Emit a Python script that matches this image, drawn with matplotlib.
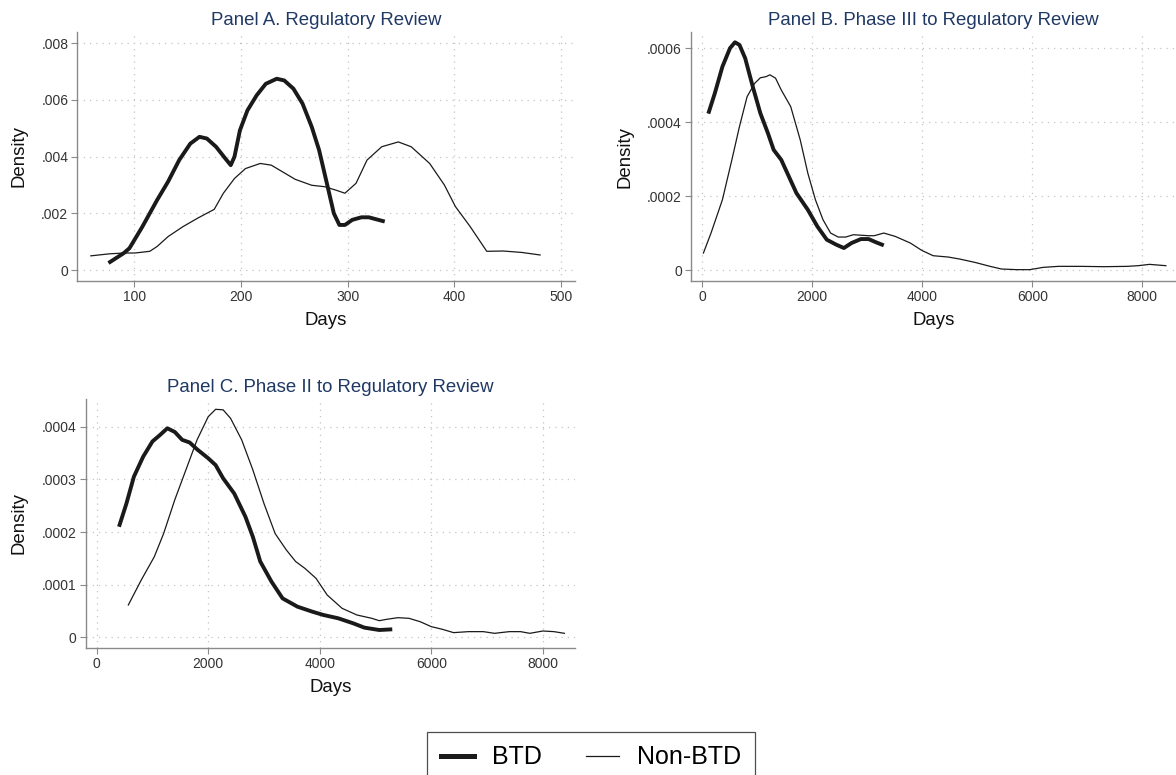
import matplotlib
matplotlib.use("Agg")
import matplotlib.pyplot as plt
from matplotlib.lines import Line2D

plt.rcParams['font.family'] = ['Liberation Sans', 'DejaVu Sans']

# ---------------- data ----------------
# Panel A. Regulatory Review
a_btd_x = [75.8, 90.3, 95.5, 107.6, 121.4, 131.7, 142.1, 152.5, 161.1, 168, 176.6, 185.2, 190.4, 193.9, 199,
           206, 214.6, 223.2, 233.5, 240.5, 249.1, 257.7, 266.3, 273.2, 280.1, 287, 292.2, 297.4, 304.3,
           312.9, 319.8, 326.7, 334.7]
a_btd_y = [0.000246, 0.0006, 0.00077, 0.00153, 0.00247, 0.00312, 0.00388, 0.00446, 0.0047, 0.00464, 0.00435,
           0.00394, 0.0037, 0.0040, 0.00493, 0.00563, 0.00616, 0.00657, 0.00675, 0.00669, 0.0064, 0.00587,
           0.00505, 0.00423, 0.00312, 0.0020, 0.00159, 0.00159, 0.00177, 0.00186, 0.00186, 0.00179, 0.00171]
a_non_x = [59.3, 76.5, 90.3, 100.7, 114.5, 121.4, 131.7, 145.6, 159.4, 174.9, 183.5, 193.9, 204.2, 218, 228.4,
           238.7, 250.8, 266.3, 278.4, 288.8, 297.4, 307.8, 318.1, 331.9, 347.4, 359.5, 376.8, 390.6, 400.9,
           414.8, 430.3, 445.8, 463.1, 480.3]
a_non_y = [0.0005, 0.00057, 0.0006, 0.0006, 0.00066, 0.00083, 0.00118, 0.00153, 0.00183, 0.00214, 0.00271,
           0.00323, 0.00358, 0.00376, 0.0037, 0.00347, 0.0032, 0.00299, 0.00294, 0.00282, 0.00271, 0.00306,
           0.00388, 0.00435, 0.00452, 0.00435, 0.00376, 0.0030, 0.00224, 0.00153, 0.00066, 0.00067, 0.00062,
           0.00053]

# Panel B. Phase III to Regulatory Review
b_btd_x = [110, 228, 366, 504, 594, 676, 780, 918, 1056, 1194, 1298, 1436, 1574, 1712, 1919, 2092, 2264, 2437,
           2575, 2713, 2885, 3023, 3162, 3300]
b_btd_y = [0.000423, 0.000478, 0.00055, 0.0006, 0.000616, 0.000609, 0.000573, 0.000496, 0.000424, 0.00037,
           0.000325, 0.000298, 0.000253, 0.000208, 0.000163, 0.000118, 0.000082, 0.0000685, 0.0000595,
           0.000073, 0.0000838, 0.0000838, 0.0000748, 0.0000667]
b_non_x = [21, 159, 366, 538, 676, 815, 953, 1056, 1160, 1229, 1332, 1436, 1608, 1781, 1919, 2057, 2195, 2333,
           2471, 2609, 2747, 3023, 3127, 3300, 3507, 3783, 3990, 4197, 4473, 4680, 4956, 5233, 5440, 5716,
           5957, 6199, 6475, 6889, 7303, 7717, 7924, 8132, 8429]
b_non_y = [0.000046, 0.0001, 0.00019, 0.000298, 0.000388, 0.000469, 0.000505, 0.00052, 0.000523, 0.000528,
           0.000519, 0.000487, 0.000442, 0.000352, 0.000262, 0.00019, 0.000136, 0.0001, 0.0000892, 0.0000892,
           0.0000955, 0.0000928, 0.0000928, 0.0001, 0.000091, 0.000073, 0.0000532, 0.0000387, 0.0000351,
           0.0000297, 0.0000207, 0.0000099, 0.0000027, 0.000001, 0.000001, 0.0000072, 0.0000099, 0.0000099,
           0.000009, 0.0000099, 0.0000117, 0.0000153, 0.0000117]

# Panel C. Phase II to Regulatory Review
c_btd_x = [400, 533, 667, 833, 1000, 1133, 1267, 1400, 1533, 1667, 1800, 2000, 2133, 2267, 2467, 2667, 2800,
           2933, 3133, 3333, 3600, 3867, 4067, 4333, 4600, 4800, 5067, 5300]
c_btd_y = [0.00021, 0.000254, 0.000305, 0.000343, 0.000372, 0.000384, 0.000397, 0.00039, 0.000375, 0.00037,
           0.000357, 0.00034, 0.000327, 0.000302, 0.000273, 0.000229, 0.000191, 0.000144, 0.000106, 0.000074,
           0.0000582, 0.0000487, 0.0000424, 0.0000361, 0.0000266, 0.0000184, 0.0000139, 0.0000152]
c_non_x = [567, 800, 1033, 1200, 1400, 1600, 1800, 2000, 2133, 2267, 2400, 2600, 2800, 3000, 3200, 3400, 3567,
           3733, 3933, 4133, 4400, 4667, 4933, 5067, 5200, 5400, 5600, 5800, 6000, 6200, 6400, 6667, 6933,
           7133, 7400, 7600, 7767, 8000, 8200, 8387]
c_non_y = [0.0000614, 0.000109, 0.000153, 0.000197, 0.000261, 0.000318, 0.000375, 0.000419, 0.000433,
           0.000432, 0.000416, 0.000375, 0.000318, 0.000254, 0.000197, 0.000166, 0.000144, 0.000131,
           0.000112, 0.0000804, 0.0000551, 0.0000424, 0.0000361, 0.0000316, 0.0000342, 0.0000373,
           0.0000361, 0.0000297, 0.0000203, 0.0000152, 0.0000089, 0.0000108, 0.0000108, 0.0000076,
           0.0000108, 0.0000108, 0.0000076, 0.000012, 0.0000108, 0.0000076]

titles = ["Panel A. Regulatory Review", "Panel B. Phase III to Regulatory Review",
          "Panel C. Phase II to Regulatory Review"]
a_xticks = [100, 200, 300, 400, 500]
a_yticks = [0, 0.002, 0.004, 0.006, 0.008]
a_yticklabels = ["0", ".002", ".004", ".006", ".008"]
b_xticks = [0, 2000, 4000, 6000, 8000]
b_yticks = [0, 0.0002, 0.0004, 0.0006]
b_yticklabels = ["0", ".0002", ".0004", ".0006"]
c_xticks = [0, 2000, 4000, 6000, 8000]
c_yticks = [0, 0.0001, 0.0002, 0.0003, 0.0004]
c_yticklabels = ["0", ".0001", ".0002", ".0003", ".0004"]
series_labels = ["BTD", "Non-BTD"]

# ---------------- figure ----------------
W, H = 1176, 775
fig = plt.figure(figsize=(W / 100, H / 100), dpi=100)

def px_axes(l, r, t, b):
    return fig.add_axes([l / W, 1 - b / H, (r - l) / W, (b - t) / H])

LINE = '#1a1a1a'
SPINE = '#8a8a8a'
TITLE = '#1f3864'

def style(ax, title, xt, yt, ytl, xlim, ylim):
    ax.set_xlim(*xlim)
    ax.set_ylim(*ylim)
    ax.set_xticks(xt)
    ax.set_xticklabels([str(v) for v in xt])
    ax.set_yticks(yt)
    ax.set_yticklabels(ytl)
    for s in ['top', 'right']:
        ax.spines[s].set_visible(False)
    for s in ['left', 'bottom']:
        ax.spines[s].set_color(SPINE)
        ax.spines[s].set_linewidth(1.0)
    ax.tick_params(axis='both', colors=SPINE, labelcolor='#333333', labelsize=10,
                   length=4, width=0.8, pad=2.5)
    ax.grid(True, color='#c4c4c4', linestyle=(0, (1, 4)), linewidth=0.9)
    ax.set_axisbelow(True)
    ax.set_title(title, color=TITLE, fontsize=13.4, pad=5)
    ax.set_xlabel("Days", fontsize=13.4, color='#111111', labelpad=6)
    ax.set_ylabel("Density", fontsize=13.4, color='#111111', labelpad=10)

axA = px_axes(77.3, 575, 31.7, 281)
axB = px_axes(691, 1176, 32.3, 281)
axC = px_axes(85.7, 575, 399.3, 647.7)

TH, TN = 2.8, 0.9
kw_thick = dict(color=LINE, lw=TH, solid_capstyle='butt', solid_joinstyle='round')
kw_thin = dict(color=LINE, lw=TN, solid_joinstyle='round')
axA.plot(a_btd_x, a_btd_y, **kw_thick)
axA.plot(a_non_x, a_non_y, **kw_thin)
axB.plot(b_btd_x, b_btd_y, **kw_thick)
axB.plot(b_non_x, b_non_y, **kw_thin)
axC.plot(c_btd_x, c_btd_y, **kw_thick)
axC.plot(c_non_x, c_non_y, **kw_thin)

style(axA, titles[0], a_xticks, a_yticks, a_yticklabels, (46.6, 513), (-0.000388, 0.00841))
style(axB, titles[1], b_xticks, b_yticks, b_yticklabels, (-205, 8613), (-0.0000297, 0.000643))
style(axC, titles[2], c_xticks, c_yticks, c_yticklabels, (-197, 8577), (-0.0000197, 0.000452))

handles = [Line2D([], [], color=LINE, lw=3.6), Line2D([], [], color=LINE, lw=0.9)]
leg = fig.legend(handles, series_labels, loc='upper left',
                 bbox_to_anchor=(427.3 / W, 1 - 731.7 / H), ncol=2, fontsize=18,
                 frameon=True, fancybox=False, edgecolor='#222222', borderaxespad=0,
                 handlelength=1.32, handletextpad=0.72, columnspacing=1.75, borderpad=0.55)
leg.get_frame().set_linewidth(0.9)

fig.savefig("out.png", dpi=100)
